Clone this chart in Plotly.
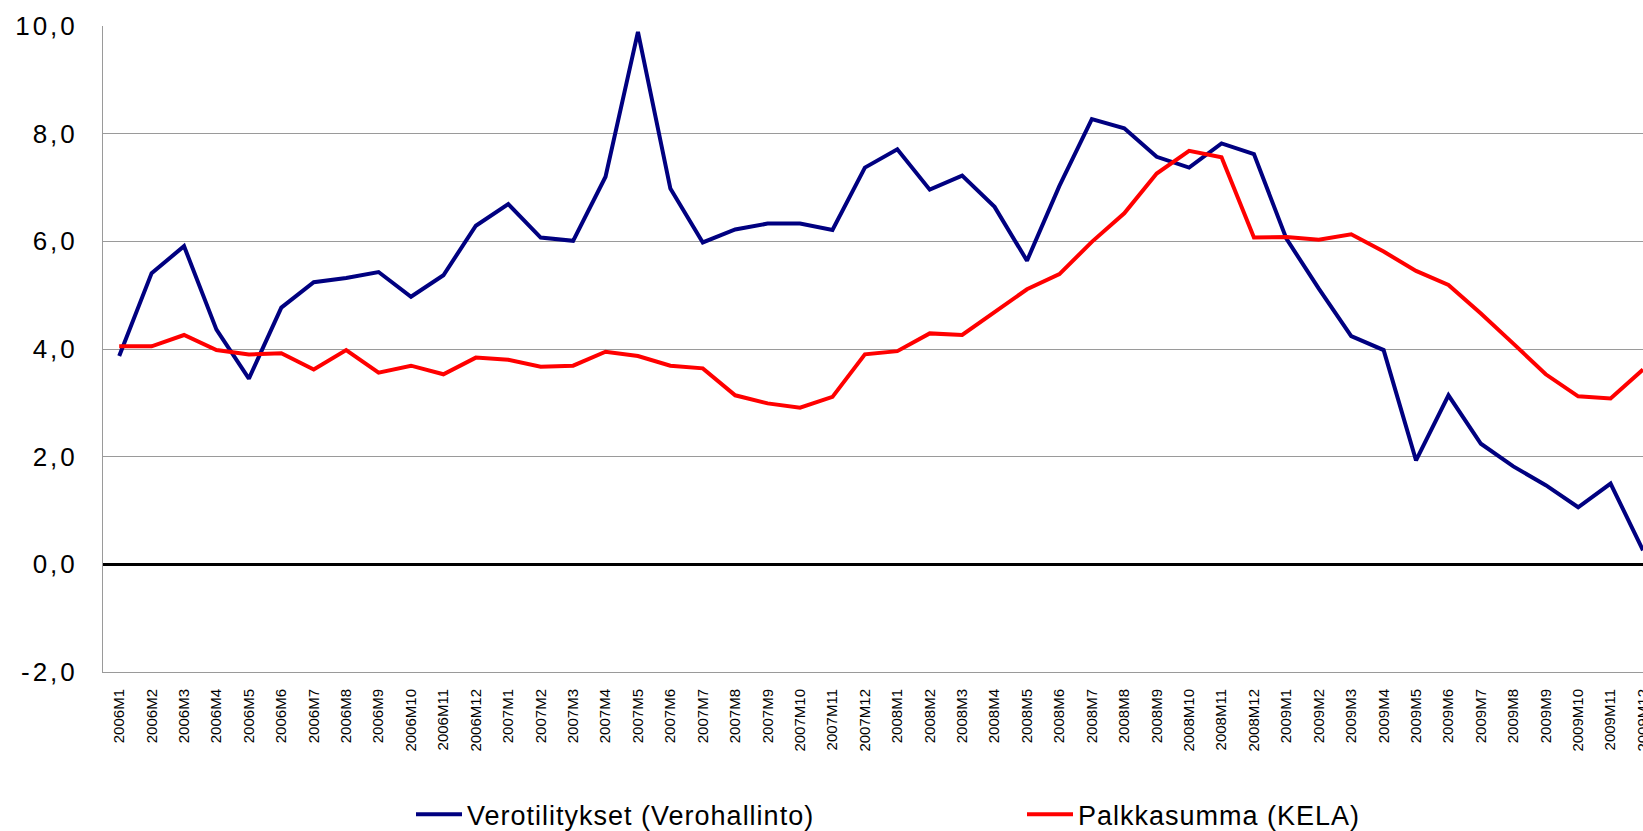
import plotly.graph_objects as go

months = [f"{y}M{m}" for y in (2006, 2007, 2008, 2009) for m in range(1, 13)]

verotilitykset = [
    3.87, 5.41, 5.91, 4.36, 3.45, 4.77, 5.24, 5.32, 5.43, 4.97, 5.37, 6.29,
    6.69, 6.07, 6.01, 7.20, 9.89, 6.98, 5.98, 6.22, 6.33, 6.33, 6.21, 7.37,
    7.71, 6.96, 7.22, 6.64, 5.64, 7.03, 8.27, 8.10, 7.57, 7.37, 7.82, 7.62,
    6.05, 5.12, 4.24, 3.98, 1.93, 3.14, 2.24, 1.82, 1.47, 1.06, 1.50, 0.26,
]
palkkasumma = [
    4.05, 4.05, 4.26, 3.98, 3.90, 3.92, 3.62, 3.98, 3.56, 3.69, 3.53, 3.84,
    3.80, 3.67, 3.69, 3.95, 3.87, 3.69, 3.64, 3.14, 2.99, 2.91, 3.11, 3.90,
    3.96, 4.29, 4.26, 4.69, 5.11, 5.39, 5.99, 6.52, 7.26, 7.68, 7.56, 6.07,
    6.08, 6.03, 6.13, 5.81, 5.45, 5.19, 4.66, 4.10, 3.53, 3.12, 3.08, 3.62,
]
y_tick_vals = [-2, 0, 2, 4, 6, 8, 10]
y_tick_text = ["-2,0", "0,0", "2,0", "4,0", "6,0", "8,0", "10,0"]

FONT = "Liberation Sans, Arial, sans-serif"

fig = go.Figure()
fig.add_trace(go.Scatter(
    x=months, y=verotilitykset, mode="lines", name="Verotilitykset (Verohallinto)",
    line=dict(color="#000080", width=4),
))
fig.add_trace(go.Scatter(
    x=months, y=palkkasumma, mode="lines", name="Palkkasumma (KELA)",
    line=dict(color="#FF0000", width=4),
))

fig.update_layout(
    template="none",
    width=1643, height=831,
    margin=dict(l=103, r=0, t=26, b=159, autoexpand=False),
    paper_bgcolor="white", plot_bgcolor="white",
    font=dict(family=FONT, color="black"),
    showlegend=True,
    legend=dict(
        orientation="h", x=0.2, xanchor="left", y=-0.221, yanchor="middle",
        font=dict(size=27, family=FONT, color="black"),
        itemwidth=46,
        entrywidth=550, entrywidthmode="pixels",
        bgcolor="rgba(0,0,0,0)", borderwidth=0,
    ),
)
fig.update_xaxes(
    type="category", categoryorder="array", categoryarray=months,
    range=[-0.5, 47.0], tickangle=-90, tickfont=dict(size=15, family=FONT, color="black"),
    showgrid=False, showline=True, linecolor="#9a9a9a", linewidth=1,
    ticks="", ticklabelstandoff=10, ticklabeloverflow="allow",
    automargin=False, zeroline=False,
)
fig.update_yaxes(
    range=[-2, 10], tickvals=y_tick_vals, ticktext=y_tick_text,
    tickfont=dict(size=26, family=FONT, color="black"),
    showgrid=True, gridcolor="#9a9a9a", gridwidth=1,
    showline=True, linecolor="#9a9a9a", linewidth=1,
    zeroline=True, zerolinecolor="black", zerolinewidth=3,
    ticks="", ticklabelstandoff=19, automargin=False,
)

post = """
document.body.style.margin = '0';
document.body.style.overflow = 'hidden';
var gd = document.getElementById('{plot_id}');
gd.querySelectorAll('.legendtext').forEach(function(e){ e.style.letterSpacing = '1px'; });
gd.querySelectorAll('.ytick text').forEach(function(e){ e.style.letterSpacing = '3px'; });
"""

fig.write_html("out.html", post_script=post, config={"displayModeBar": False})
